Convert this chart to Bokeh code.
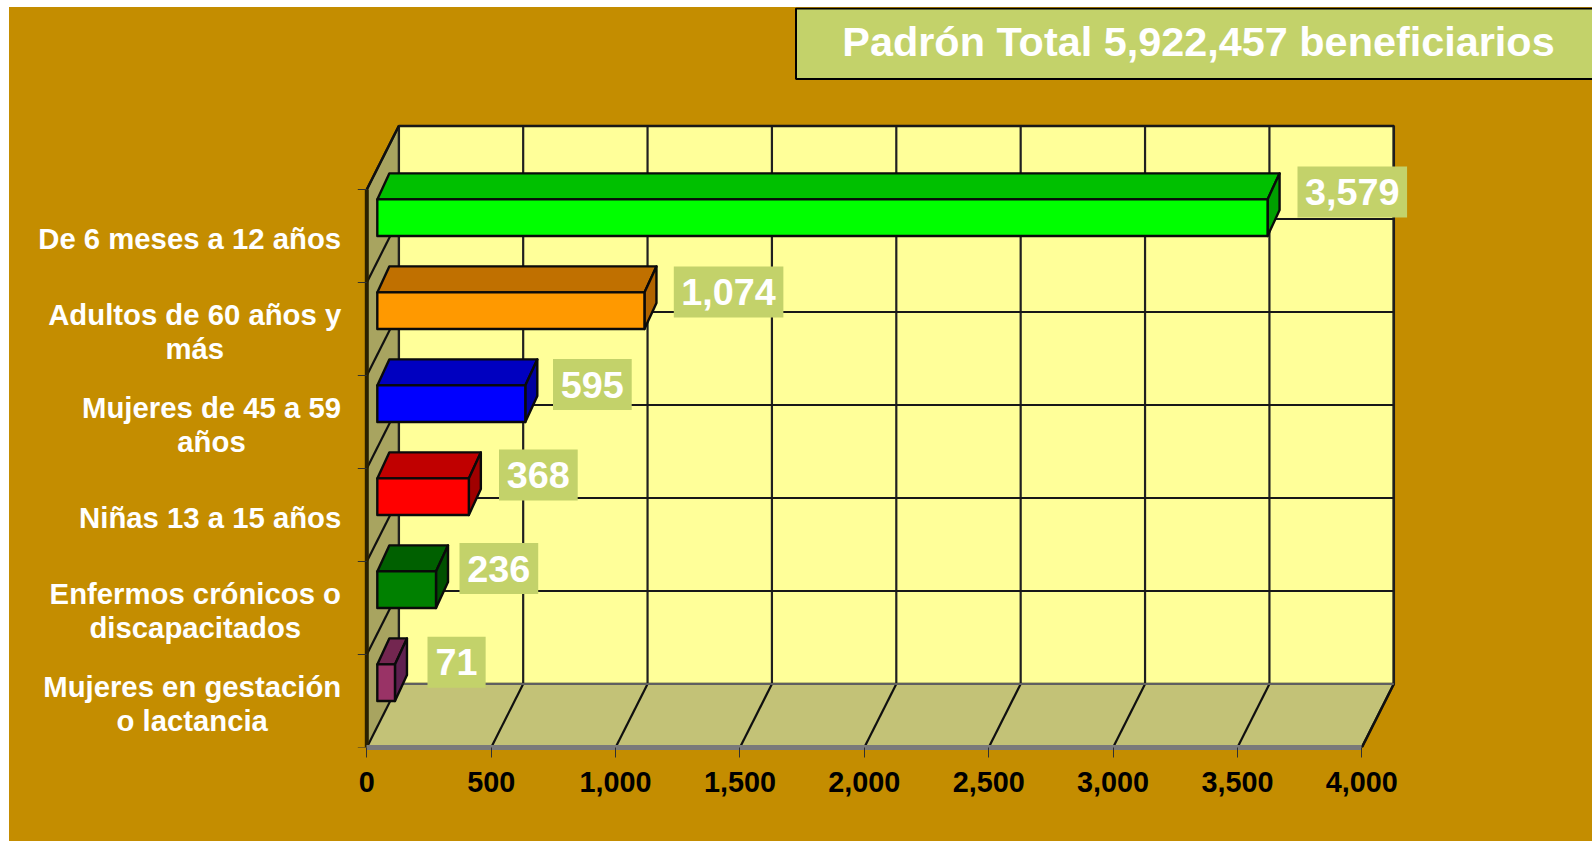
from bokeh.plotting import figure
from bokeh.embed import file_html
from bokeh.resources import INLINE
from bokeh.core.properties import value
from bokeh.models import FixedTicker, NumeralTickFormatter

# ---------- data ----------
categories = ["De 6 meses a 12 años", "Adultos de 60 años y más", "Mujeres de 45 a 59 años",
              "Niñas 13 a 15 años", "Enfermos crónicos o discapacitados", "Mujeres en gestación o lactancia"]
category_lines = [["De 6 meses a 12 años"], ["Adultos de 60 años y", "más"], ["Mujeres de 45 a 59", "años"],
                  ["Niñas 13 a 15 años"], ["Enfermos crónicos o", "discapacitados"], ["Mujeres en gestación", "o lactancia"]]
beneficiarios = [3579, 1074, 595, 368, 236, 71]
x_ticks = [0, 500, 1000, 1500, 2000, 2500, 3000, 3500, 4000]
title = "Padrón Total 5,922,457 beneficiarios"

# ---------- styling ----------
front_colors = ["#00ff00", "#ff9900", "#0000ff", "#ff0000", "#008000", "#993366"]
top_colors = ["#00c000", "#c07000", "#0000c0", "#c00000", "#006000", "#732650"]
side_colors = ["#00a000", "#b06400", "#0000a0", "#a00000", "#005000", "#5f2050"]
GOLD, BACK, WALL, FLOOR, BOX = "#c48d00", "#ffff99", "#a8a460", "#c3c277", "#c3d26a"
FONT = value("Liberation Sans")

# ---------- layout (page pixels) ----------
OX, OY = 9, 7                    # where the figure starts on the page
X0, KX = 366.3, 0.24875          # page x of value 0, px per value
Y0, KY = 747.0, 93.0             # page y of category position 0, px per category
DX, DY = 32.0, 63.5              # depth of the 3D box
BAR_DX, BAR_DY = 12.0, 26.0      # depth of a bar
BAR_START, BAR_H = 10.5, 36.6
W, H = 1592 - OX, 841 - OY
frame_h = int(Y0 - OY)
NC = len(categories)


def vx(px):  # page pixel -> x data
    return (px - X0) / KX


def vy(py):  # page pixel -> y data
    return (Y0 - py) / KY


p = figure(width=W, height=H, output_backend="svg", toolbar_location=None,
           x_range=(vx(OX), vx(OX + W)), y_range=(0, frame_h / KY),
           min_border_left=0, min_border_right=0, min_border_top=0, min_border_bottom=H - frame_h,
           y_axis_location=None)
p.frame_height = frame_h
p.frame_width = W
p.background_fill_color = GOLD
p.border_fill_color = GOLD
p.outline_line_color = None
p.grid.visible = False

# the axis below is a real one, running from 0 to the last tick
ax = p.xaxis[0]
ax.bounds = (x_ticks[0], x_ticks[-1])
ax.ticker = FixedTicker(ticks=x_ticks)
ax.formatter = NumeralTickFormatter(format="0,0")
ax.major_label_text_font = "Liberation Sans"
ax.major_label_text_font_style = "bold"
ax.major_label_text_font_size = "28.8px"
ax.major_label_text_color = "#000000"
ax.major_tick_out = 10
ax.major_tick_in = 0
ax.major_tick_line_color = "#303030"
ax.major_tick_line_width = 1
ax.minor_tick_line_color = None
ax.axis_line_color = "#7a7a7a"
ax.axis_line_width = 5
ax.major_label_standoff = 14

dvx, dcy = DX / KX, DY / KY
tv0, tv1 = x_ticks[0], x_ticks[-1]

# walls
p.patch([tv0 + dvx, tv1 + dvx, tv1 + dvx, tv0 + dvx], [dcy, dcy, NC + dcy, NC + dcy],
        fill_color=BACK, line_color="#101010", line_width=2.5)
p.patch([tv0, tv1, tv1 + dvx, tv0 + dvx], [0, 0, dcy, dcy], fill_color=FLOOR, line_color=None)
p.patch([tv0, tv0 + dvx, tv0 + dvx, tv0], [0, dcy, NC + dcy, NC], fill_color=WALL, line_color=None)
p.line([tv0, tv0 + dvx], [NC, NC + dcy], line_color="#101010", line_width=2.5)
p.line([tv1, tv1 + dvx], [0, dcy], line_color="#101010", line_width=2.5)

# grid on the walls
for t in x_ticks:
    p.line([t + dvx, t + dvx], [dcy, NC + dcy], line_color="#202020", line_width=2.2)
    p.line([t, t + dvx], [0, dcy], line_color="#101010", line_width=2.2)
for c in range(NC + 1):
    color = "#606060" if c == 0 else "#181818"
    p.line([tv0 + dvx, tv1 + dvx], [c + dcy, c + dcy], line_color=color, line_width=2.2)
    if c > 0:
        p.line([tv0, tv0 + dvx], [c, c + dcy], line_color="#101010", line_width=2.2)
p.line([tv0, tv0], [0, NC], line_color="#2a2000", line_width=4)
for c in range(NC + 1):
    p.line([vx(X0 - 9), tv0], [c, c], line_color="#303030", line_width=1)

# bars, back one first
start = BAR_START / KX
bdx, bdy = BAR_DX / KX, BAR_DY / KY
h = BAR_H / KY
for i, val in enumerate(beneficiarios):
    c0 = NC - 1 - i + 0.5
    x1 = val + start
    kw = dict(line_color="#0a0a0a", line_width=2.4, line_join="round")
    p.patch([start, x1, x1 + bdx, start + bdx], [c0 + h, c0 + h, c0 + h + bdy, c0 + h + bdy],
            fill_color=top_colors[i], **kw)
    p.patch([x1, x1 + bdx, x1 + bdx, x1], [c0, c0 + bdy, c0 + h + bdy, c0 + h],
            fill_color=side_colors[i], **kw)
    p.patch([start, x1, x1, start], [c0, c0, c0 + h, c0 + h], fill_color=front_colors[i], **kw)

# value labels in their boxes
label_left = [1297.0, 673.3, 552.5, 498.5, 459.0, 427.0]
label_center_y = [191.4, 291.6, 384.0, 474.5, 568.0, 661.8]
for i, val in enumerate(beneficiarios):
    s = f"{val:,}"
    w = sum(0.278 if ch == "," else 0.556 for ch in s) * 37 + 17
    left = label_left[i]
    cy = label_center_y[i]
    p.quad(left=vx(left), right=vx(left + w), bottom=vy(cy + 25.5), top=vy(cy - 25.5),
           fill_color=BOX, line_color=None)
    p.text([vx(left + w / 2)], [vy(cy)], text=[s], text_font=FONT, text_font_style="bold",
           text_font_size="37.8px", text_color="#ffffff", text_align="center", text_baseline="middle")

# category labels
label_center_x = [189.2, 194.2, 211.0, 209.7, 194.8, 191.7]
LINE_H = 33.5
for i, lines in enumerate(category_lines):
    mid = Y0 - (NC - 1 - i + 0.5) * KY + 2.5
    for j, line in enumerate(lines):
        y = mid + (j - (len(lines) - 1) / 2) * LINE_H
        p.text([vx(label_center_x[i])], [vy(y)], text=[line], text_font=FONT, text_font_style="bold",
               text_font_size="29.3px", text_color="#ffffff", text_align="center", text_baseline="middle")

# title box
p.quad(left=vx(795.5), right=vx(OX + W + 4), bottom=vy(78.5), top=vy(OY + 1),
       fill_color=BOX, line_color="#000000", line_width=2)
p.text([vx(1198)], [vy(41.5)], text=[title], text_font=FONT, text_font_style="bold",
       text_font_size="41.4px", text_color="#ffffff", text_align="center", text_baseline="middle")

html = file_html(p, INLINE)
html = html.replace("</head>", f"<style>html{{margin:0;padding:0;background:#fff;height:auto}}"
                               f"body{{margin:{OY}px 0 0 {OX}px;padding:0;overflow:hidden;"
                               f"height:{H}px;width:{W}px;background:{GOLD}}}</style></head>")
open("out.html", "w").write(html)
